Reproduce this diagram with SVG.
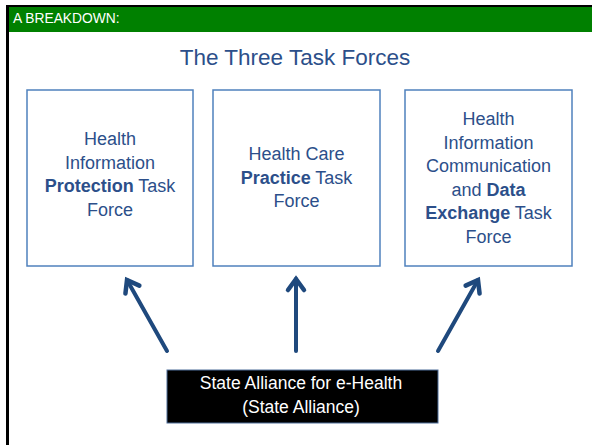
<svg xmlns="http://www.w3.org/2000/svg" width="592" height="445" viewBox="0 0 592 445">
  <style>
    .lbl { font-family: "Liberation Sans", Arial, sans-serif; font-size: 18px; fill: #2C4F8A; text-anchor: middle; }
    .b { font-weight: bold; }
    .box { fill: #FFFFFF; stroke: #4F81BD; stroke-width: 1.5; }
    .link { stroke: #1F497D; stroke-width: 4; stroke-linecap: round; fill: none; marker-end: url(#arr); }
  </style>
  <defs>
    <marker id="arr" markerUnits="userSpaceOnUse" markerWidth="24" markerHeight="24" viewBox="-14 -12 24 24" refX="0" refY="0" orient="auto" overflow="visible">
      <path d="M-11,-8 L0,0 L-11,8" fill="none" stroke="#1F497D" stroke-width="4.5" stroke-linejoin="miter" stroke-linecap="round"/>
    </marker>
  </defs>

  <!-- page -->
  <rect x="0" y="0" width="592" height="445" fill="#FFFFFF"/>
  <rect x="9" y="7" width="583" height="25" fill="#008000"/>
  <rect x="6" y="5" width="586" height="2" fill="#000000"/>
  <rect x="6" y="5" width="3" height="440" fill="#000000"/>
  <text x="13" y="23" font-family="'Liberation Sans', Arial, sans-serif" font-size="13.8" fill="#FFFFFF">A BREAKDOWN:</text>

  <!-- title -->
  <text x="295" y="65" font-family="'Liberation Sans', Arial, sans-serif" font-size="22.5" fill="#2C4F8A" text-anchor="middle">The Three Task Forces</text>

  <!-- task force nodes -->
  <g id="protection">
    <rect class="box" x="27" y="90" width="166" height="176"/>
    <text class="lbl" x="110" y="145">Health</text>
    <text class="lbl" x="110" y="168.5">Information</text>
    <text class="lbl" x="110" y="192"><tspan class="b">Protection</tspan> Task</text>
    <text class="lbl" x="110" y="215.5">Force</text>
  </g>
  <g id="practice">
    <rect class="box" x="213" y="90" width="167" height="176"/>
    <text class="lbl" x="296.5" y="160">Health Care</text>
    <text class="lbl" x="296.5" y="183.5"><tspan class="b">Practice</tspan> Task</text>
    <text class="lbl" x="296.5" y="207">Force</text>
  </g>
  <g id="exchange">
    <rect class="box" x="405" y="90" width="167" height="176"/>
    <text class="lbl" x="488.5" y="125">Health</text>
    <text class="lbl" x="488.5" y="148.5">Information</text>
    <text class="lbl" x="488.5" y="172">Communication</text>
    <text class="lbl" x="488.5" y="195.5">and <tspan class="b">Data</tspan></text>
    <text class="lbl" x="488.5" y="219"><tspan class="b">Exchange</tspan> Task</text>
    <text class="lbl" x="488.5" y="242.5">Force</text>
  </g>

  <!-- source node -->
  <g id="alliance">
    <rect x="167" y="370" width="271" height="53" fill="#000000" stroke="#4F6E9A" stroke-width="1"/>
    <text x="301" y="389" font-family="'Liberation Sans', Arial, sans-serif" font-size="17.5" fill="#FFFFFF" text-anchor="middle">State Alliance for e-Health</text>
    <text x="301" y="413" font-family="'Liberation Sans', Arial, sans-serif" font-size="17.5" fill="#FFFFFF" text-anchor="middle">(State Alliance)</text>
  </g>

  <!-- connectors -->
  <g id="connectors">
    <line class="link" x1="167" y1="351" x2="127" y2="280"/>
    <line class="link" x1="296" y1="351" x2="296" y2="279"/>
    <line class="link" x1="438" y1="351" x2="478" y2="280"/>
  </g>
</svg>
